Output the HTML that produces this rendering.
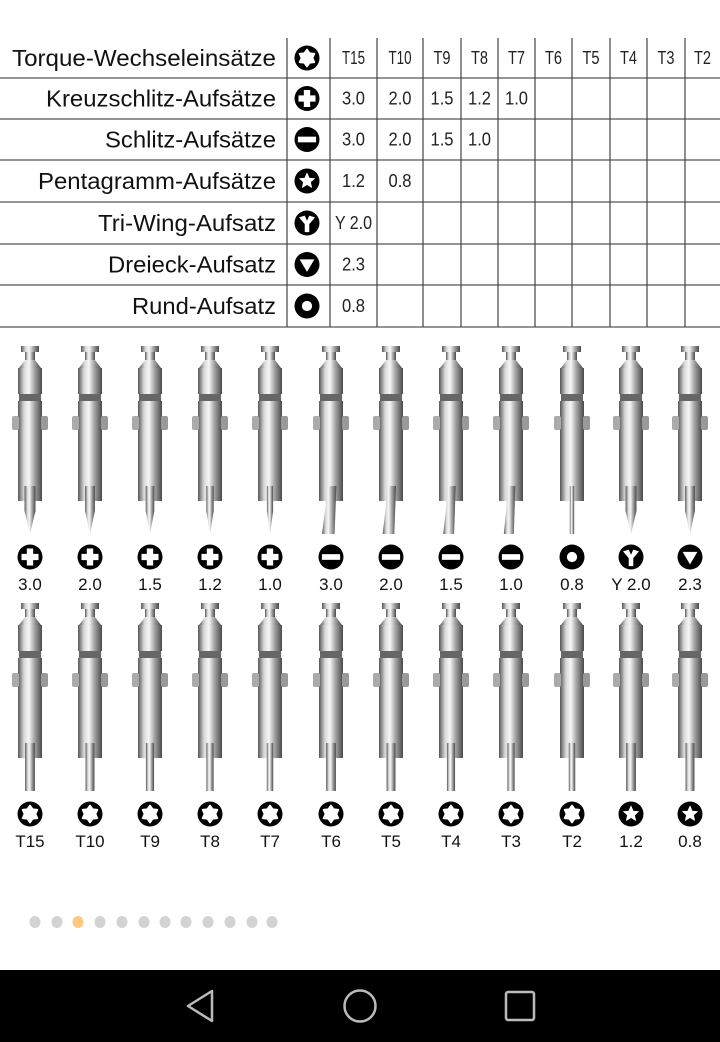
<!DOCTYPE html>
<html><head><meta charset="utf-8"><style>
html,body{margin:0;padding:0;background:#fff;width:720px;height:1042px;overflow:hidden}
svg{display:block}
text{font-family:"Liberation Sans",sans-serif}
</style></head><body>
<svg id="s" width="720" height="1042" viewBox="0 0 720 1042">
<defs>
<linearGradient id="metal" x1="0" x2="1" y1="0" y2="0">
<stop offset="0" stop-color="#555"/><stop offset="0.25" stop-color="#d8d8d8"/><stop offset="0.45" stop-color="#f6f6f6"/><stop offset="0.7" stop-color="#a0a0a0"/><stop offset="1" stop-color="#4a4a4a"/>
</linearGradient>
</defs>
<g id="table"></g>
<g id="bits"></g>
<g id="dots"></g>
<rect x="0" y="970" width="720" height="72" fill="#000"/>
<path d="M212,991 L188,1006 L212,1021 Z" fill="none" stroke="#bbb" stroke-width="2.5" stroke-linejoin="round"/>
<ellipse cx="360" cy="1006" rx="15.5" ry="15.5" fill="none" stroke="#bbb" stroke-width="2.5"/>
<rect x="506" y="992" width="28" height="28" rx="2" fill="none" stroke="#bbb" stroke-width="2.5"/>
</svg>
<script>
const NS='http://www.w3.org/2000/svg';
function mk(tag,attrs,parent,txt){const e=document.createElementNS(NS,tag);for(const k in attrs)e.setAttribute(k,attrs[k]);if(txt!==undefined)e.textContent=txt;parent.appendChild(e);return e;}
const rowLabels=["Torque-Wechseleinsätze","Kreuzschlitz-Aufsätze","Schlitz-Aufsätze","Pentagramm-Aufsätze","Tri-Wing-Aufsatz","Dreieck-Aufsatz","Rund-Aufsatz"];
const rowLabelStart=[12,46,105,38,98,108,132];
const rowTypes=["torx","cross","slot","star","tri","triangle","round"];
const headerCells=["T15","T10","T9","T8","T7","T6","T5","T4","T3","T2"];
const cellValues=[[],["3.0","2.0","1.5","1.2","1.0"],["3.0","2.0","1.5","1.0"],["1.2","0.8"],["Y 2.0"],["2.3"],["0.8"]];
const colX=[330,377,423,461,498,535,572,610,647,685,720];
const rowY=[38,78,119,160,202,244,285,327];
const bitTypes1=["cross","cross","cross","cross","cross","slot","slot","slot","slot","round","tri","triangle"];
const bitLabels1=["3.0","2.0","1.5","1.2","1.0","3.0","2.0","1.5","1.0","0.8","Y 2.0","2.3"];
const bitTypes2=["torx","torx","torx","torx","torx","torx","torx","torx","torx","torx","star","star"];
const bitLabels2=["T15","T10","T9","T8","T7","T6","T5","T4","T3","T2","1.2","0.8"];
const bitX=[30,90,150,210,270,331,391,451,511,572,631,690];

function icon(type,cx,cy,r,parent){
  const g=mk('g',{},parent);
  
  
  mk('circle',{cx,cy,r,fill:'#000'},g);
  const s=r/11;
  if(type==='cross'){mk('path',{d:`M${cx-2.8*s},${cy-7.5*s}h${5.6*s}v${4.7*s}h${4.7*s}v${5.6*s}h${-4.7*s}v${4.7*s}h${-5.6*s}v${-4.7*s}h${-4.7*s}v${-5.6*s}h${4.7*s}z`,fill:'#fff'},g);}
  else if(type==='slot'){mk('rect',{x:cx-8*s,y:cy-2.5*s,width:16*s,height:5*s,fill:'#fff'},g);}
  else if(type==='round'){mk('circle',{cx,cy,r:4.5*s,fill:'#fff'},g);}
  else if(type==='triangle'){mk('path',{d:`M${cx-6.5*s},${cy-4.5*s}L${cx+6.5*s},${cy-4.5*s}L${cx},${cy+6.5*s}Z`,fill:'#fff'},g);}
  else if(type==='tri'){mk('path',{d:`M${cx-7*s},${cy-5*s}L${cx-2*s},${cy-6.5*s}L${cx},${cy-2*s}L${cx+2*s},${cy-6.5*s}L${cx+7*s},${cy-5*s}L${cx+2*s},${cy+1*s}L${cx+2*s},${cy+8*s}L${cx-2*s},${cy+8*s}L${cx-2*s},${cy+1*s}Z`,fill:'#fff'},g);}
  else if(type==='star'||type==='torx'){
    let d='';const n=type==='star'?5:6;const ro=type==='star'?7*s:7.5*s,ri=type==='star'?3.2*s:4.8*s;
    for(let i=0;i<2*n;i++){const a=-Math.PI/2+i*Math.PI/n;const rr=i%2?ri:ro;d+=(i?'L':'M')+(cx+rr*Math.cos(a)).toFixed(2)+','+(cy+rr*Math.sin(a)).toFixed(2);}
    mk('path',{d:d+'Z',fill:'#fff','stroke':'#fff','stroke-linejoin':'round','stroke-width':type==='torx'?1.5*s:0.6*s},g);
  }
  return g;
}

// table
const T=document.getElementById('table');
for(let i=1;i<rowY.length;i++){const l=mk('line',{x1:0,x2:720,y1:rowY[i],y2:rowY[i],stroke:'#555','stroke-width':1.3},T);}
[287].concat(colX.slice(0,10)).forEach(x=>{const l=mk('line',{x1:x,x2:x,y1:rowY[0],y2:rowY[7],stroke:'#444','stroke-width':1.2},T);});
rowLabels.forEach((lab,i)=>{
  const cy=(rowY[i]+rowY[i+1])/2;
  const t=mk('text',{x:rowLabelStart[i],y:cy+8,'font-size':23,fill:'#111',textLength:276-rowLabelStart[i],lengthAdjust:'spacingAndGlyphs'},T,lab);
  
  icon(rowTypes[i],307,cy,12.5,T);
  const vals=i===0?headerCells:cellValues[i];
  vals.forEach((v,j)=>{const cx=(colX[j]+colX[j+1])/2;const w=v.length>=5?37:(v.length===3?23:17);
    const c=mk('text',{x:cx,y:cy+6,'font-size':18,fill:'#222','text-anchor':'middle',textLength:w,lengthAdjust:'spacingAndGlyphs'},T,v);
    });
});

// bits
const B=document.getElementById('bits');
function bit(cx,y0,type,idx){
  const g=mk('g',{},B);
  
  
  const m='url(#metal)';
  mk('rect',{x:cx-9,y:y0,width:18,height:6,fill:m},g);
  mk('rect',{x:cx-5,y:y0+6,width:10,height:8,fill:m},g);
  mk('path',{d:`M${cx-5},${y0+14}L${cx-11},${y0+22}L${cx+11},${y0+22}L${cx+5},${y0+14}Z`,fill:m},g);
  mk('rect',{x:cx-12,y:y0+22,width:24,height:26,fill:m},g);
  mk('rect',{x:cx-11,y:y0+48,width:22,height:7,fill:'#666'},g);
  mk('rect',{x:cx-12,y:y0+55,width:24,height:100,fill:m},g);
  mk('rect',{x:cx-18,y:y0+70,width:7,height:14,rx:2,fill:'#aaa'},g);
  mk('rect',{x:cx+11,y:y0+70,width:7,height:14,rx:2,fill:'#999'},g);
  const wide=type==='slot'?9:(type==='torx'||type==='star'?7:5.5);
  const w=Math.max(2,wide-(idx%5)*0.6);
  mk('path',{d:`M${cx-12},${y0+128}L${cx-w},${y0+140}L${cx+w},${y0+140}L${cx+12},${y0+128}Z`,fill:m},g);
  if(type==='cross'||type==='tri'||type==='triangle'){
    mk('path',{d:`M${cx-w},${y0+140}L${cx-w},${y0+165}L${cx},${y0+188}L${cx+w},${y0+165}L${cx+w},${y0+140}Z`,fill:m},g);
  } else if(type==='slot'){
    mk('path',{d:`M${cx-w*0.6},${y0+140}L${cx-w*0.6},${y0+160}L${cx-w},${y0+188}L${cx+w*0.4},${y0+188}L${cx+w*0.6},${y0+140}Z`,fill:m},g);
  } else {
    mk('rect',{x:cx-w*0.7,y:y0+140,width:w*1.4,height:48,fill:m},g);
  }
}
function row(types,labels,y0,iconY,labelY){
  types.forEach((t,i)=>{
    bit(bitX[i],y0,t,i);
    icon(t,bitX[i],iconY,12.5,B);
    const l=mk('text',{x:bitX[i],y:labelY,'font-size':17,fill:'#111','text-anchor':'middle'},B,labels[i]);
    
  });
}
row(bitTypes1,bitLabels1,346,557,590);
row(bitTypes2,bitLabels2,603,814,847);

// dots
const D=document.getElementById('dots');
const dotX=[35,57,78,100,122,144,165,186,208,230,252,272];
dotX.forEach((x,i)=>{const c=mk('ellipse',{cx:x,cy:922,rx:5.5,ry:6,fill:i===2?'#fdc981':'#d3d3d3'},D);});
</script>
</body></html>
